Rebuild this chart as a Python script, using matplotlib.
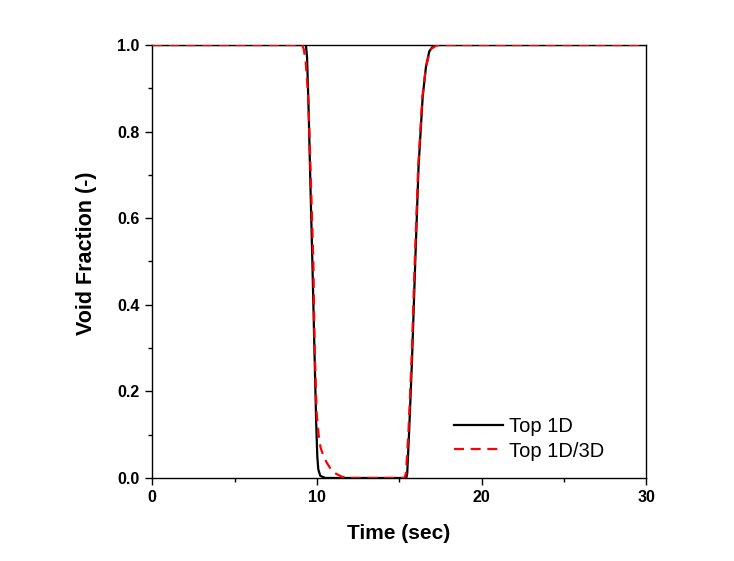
import matplotlib
matplotlib.use("Agg")
import matplotlib.pyplot as plt
from matplotlib.ticker import MultipleLocator, FormatStrFormatter

# Top 1D (solid black)
t_1d = [0, 9.33, 9.40, 9.50, 9.60, 9.72, 9.85, 9.95, 10.02, 10.08, 10.2, 10.5,
        15.42, 15.48, 15.6, 15.77, 15.97, 16.17, 16.42, 16.62, 16.82, 17.0, 17.2, 17.45, 30]
v_1d = [1.0, 1.0, 0.97, 0.84, 0.68, 0.50, 0.29, 0.13, 0.05, 0.02, 0.005, 0.0,
        0.0, 0.01, 0.11, 0.27, 0.50, 0.72, 0.88, 0.95, 0.985, 0.995, 0.999, 1.0, 1.0]

# Top 1D/3D (dashed red)
t_3d = [0, 9.10, 9.20, 9.32, 9.47, 9.62, 9.78, 9.86, 9.98, 10.1, 10.22, 10.4, 10.6, 10.85, 11.1, 11.5, 12.0,
        15.32, 15.40, 15.55, 15.74, 15.94, 16.15, 16.40, 16.62, 16.9, 17.3, 30]
v_3d = [1.0, 1.0, 0.99, 0.96, 0.88, 0.70, 0.50, 0.30, 0.15, 0.10, 0.07, 0.05, 0.035, 0.02, 0.011, 0.003, 0.0,
        0.0, 0.01, 0.10, 0.27, 0.50, 0.72, 0.88, 0.95, 0.99, 1.0, 1.0]

plt.rcParams['font.family'] = ['Liberation Sans', 'DejaVu Sans']

fig = plt.figure(figsize=(7.34, 5.61), dpi=100)
ax = fig.add_axes([0.2075, 0.148, 0.6730, 0.7718])

ax.plot(t_1d, v_1d, color='black', lw=1.6, label='Top 1D', zorder=3)
ax.plot(t_3d, v_3d, color='red', lw=1.6, ls=(0, (4.5, 3)), label='Top 1D/3D', zorder=4)

ax.set_xlim(0, 30)
ax.set_ylim(0, 1.0)
ax.xaxis.set_major_locator(MultipleLocator(10))
ax.xaxis.set_minor_locator(MultipleLocator(5))
ax.yaxis.set_major_locator(MultipleLocator(0.2))
ax.yaxis.set_minor_locator(MultipleLocator(0.1))
ax.yaxis.set_major_formatter(FormatStrFormatter('%.1f'))
ax.tick_params(which='both', direction='out', top=False, right=False, width=1)
ax.tick_params(which='major', length=5, labelsize=11.5, pad=4)
ax.tick_params(which='minor', length=3)
for lab in ax.get_xticklabels() + ax.get_yticklabels():
    lab.set_fontweight('bold')
for s in ax.spines.values():
    s.set_linewidth(1)

ax.set_xlabel('Time (sec)', fontsize=15, fontweight='bold')
ax.set_ylabel('Void Fraction (-)', fontsize=15.5, fontweight='bold')
ax.xaxis.set_label_coords(0.4994, -0.106)
ax.yaxis.set_label_coords(-0.111, 0.518)

leg = ax.legend(loc='center left', bbox_to_anchor=(0.611, 0.090), frameon=False,
                fontsize=14.5, handlelength=2.45, handletextpad=0.25, borderpad=0,
                borderaxespad=0, labelspacing=0.25)

fig.savefig('out.png', dpi=100)
